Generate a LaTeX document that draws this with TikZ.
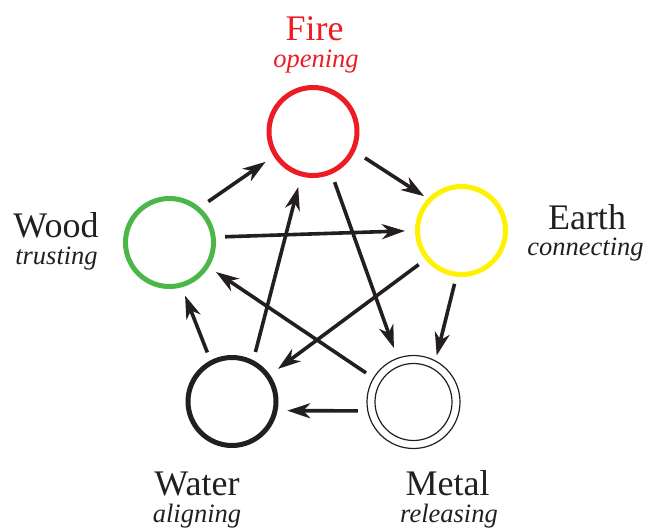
\documentclass[tikz,border=0pt]{standalone}
\usepackage{fontspec}
\setmainfont{Liberation Serif}
\usetikzlibrary{arrows.meta}
\definecolor{firered}{RGB}{237,28,36}
\definecolor{earthyellow}{RGB}{255,242,0}
\definecolor{woodgreen}{RGB}{76,183,72}
\definecolor{ink}{RGB}{35,31,32}
\begin{document}
\begin{tikzpicture}[x=1pt,y=-1pt,
  elem/.style={circle,draw,line width=5pt,minimum size=88pt,inner sep=0pt,outer sep=0pt},
  ring/.style={circle,draw=ink,line width=1.2pt,inner sep=0pt,outer sep=0pt},
  link/.style={line width=3.6pt,draw=ink,-{Stealth[length=23pt,width=15pt,inset=7pt]}},
  big/.style={font=\fontsize{36}{40}\selectfont,anchor=base,inner sep=0pt},
  small/.style={font=\fontsize{26.5}{30}\selectfont\itshape,anchor=base,inner sep=0pt}]
\useasboundingbox (0,0) rectangle (650,531);

\node[elem,draw=firered] (fire) at (313,131.5) {};
\node[elem,draw=earthyellow] (earth) at (461.5,230.5) {};
\node[elem,draw=woodgreen] (wood) at (169.5,242.5) {};
\node[elem,draw=ink] (water) at (232,401.5) {};
\node[ring,minimum size=93pt] (metal) at (413.5,402) {};
\node[ring,minimum size=77pt] (metalin) at (metal.center) {};

% cycle
\draw[link,shorten <=12.8pt,shorten >=12.3pt] (wood.50) -- (fire.212);
\draw[link,shorten <=14.4pt,shorten >=6.9pt] (fire.335) -- (earth.136);
\draw[link,shorten <=9.8pt,shorten >=5.6pt] (earth.264) -- (metal.62);
\draw[link,shorten <=10.1pt,shorten >=12.2pt] (metal.191) -- (water.348);
\draw[link,shorten <=11pt,shorten >=11.4pt] (water.118) -- (wood.285);
% star
\draw[link,shorten <=11.9pt,shorten >=12.5pt] (wood.7) -- (earth.180);
\draw[link,shorten <=11pt,shorten >=13.5pt] (water.62) -- (fire.255);
\draw[link,shorten <=11.1pt,shorten >=10.9pt] (fire.294) -- (metal.110);
\draw[link,shorten <=10.7pt,shorten >=12.3pt] (earth.219) -- (water.35);
\draw[link,shorten <=9.2pt,shorten >=11.1pt] (metal.149) -- (wood.328);

% labels
\node[big,text=firered] (firelbl) at (314.5,40) {Fire};
\node[small,text=firered] (firesub) at (316,67) {opening};
\node[big,text=ink] (woodlbl) at (56,237) {Wood};
\node[small,text=ink] (woodsub) at (56.5,264) {trusting};
\node[big,text=ink] (earthlbl) at (587,229) {Earth};
\node[small,text=ink] (earthsub) at (585.5,255) {connecting};
\node[big,text=ink] (waterlbl) at (197,495) {Water};
\node[small,text=ink] (watersub) at (197,522) {aligning};
\node[big,text=ink] (metallbl) at (447.5,495) {Metal};
\node[small,text=ink] (metalsub) at (449,522) {releasing};
\end{tikzpicture}
\end{document}
